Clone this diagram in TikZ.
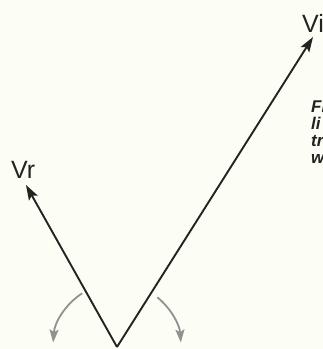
\documentclass[tikz,border=0pt]{standalone}
\usepackage{fontspec}
\setmainfont{Liberation Sans}
\usetikzlibrary{arrows.meta}
\definecolor{paper}{RGB}{252,253,244}
\definecolor{ink}{RGB}{35,35,35}
\definecolor{arcgray}{RGB}{145,145,145}
\begin{document}
\begin{tikzpicture}[x=1pt,y=1pt,
  vec/.style={draw=ink,line width=1.9pt,-{Stealth[length=15pt,width=10pt,inset=3pt]}},
  turn/.style={draw=arcgray,line width=1.8pt,-{Stealth[length=13pt,width=9pt,inset=2.5pt]}},
  lab/.style={inner sep=0pt,anchor=base west,font=\fontsize{25}{25}\selectfont,text=ink},
  captext/.style={inner sep=0pt,anchor=base west,font=\fontsize{17}{17}\selectfont\bfseries\itshape,text=ink}]
\fill[paper] (0,0) rectangle (323,349);
\useasboundingbox (0,0) rectangle (323,349);
\coordinate (O) at (117,2);
\coordinate (tipL) at (26,164);
\coordinate (tipR) at (313,312);
\draw[vec] (O) -- (tipL);
\draw[vec] (O) -- (tipR);
\draw[turn] ([shift={(123:64)}]O) arc[start angle=123,end angle=176,radius=64];
\draw[turn] ([shift={(51:64)}]O) arc[start angle=51,end angle=4,radius=64];
\node[lab] (vr) at (11,171) {Vr};
\node[lab] (vi) at (302,316) {Vi};
\node[captext] (c1) at (311,236) {Fi};
\node[captext] (c2) at (311,219) {li};
\node[captext] (c3) at (311,202) {tr};
\node[captext] (c4) at (311,185) {w};
\end{tikzpicture}
\end{document}
